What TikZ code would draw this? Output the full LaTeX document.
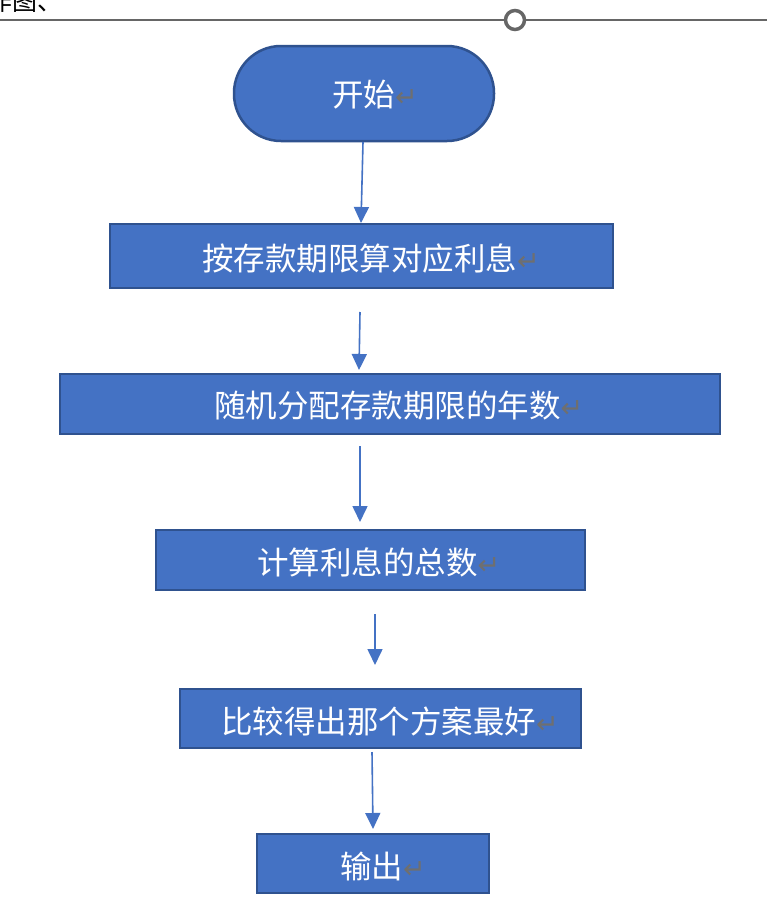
\documentclass[tikz,border=0pt]{standalone}
\usepackage{fontspec}
\usetikzlibrary{arrows.meta}
\newfontfamily\cjk{Noto Sans CJK SC}
\newfontfamily\symf{DejaVu Sans}
\definecolor{boxfill}{HTML}{4472C4}
\definecolor{boxline}{HTML}{2F528F}
\definecolor{rulegray}{HTML}{666666}
\definecolor{retgray}{HTML}{6F6F6F}
\newcommand{\retmark}{{\symf\fontsize{27pt}{27pt}\selectfont\color{retgray}↵}}
\begin{document}
\begin{tikzpicture}[x=1pt,y=-1pt,
  flowbox/.style={draw=boxline,fill=boxfill,line width=2.5pt},
  flowtxt/.style={anchor=west,inner sep=0pt,text=white,font=\cjk\fontsize{31.5pt}{31.5pt}\selectfont},
  flowarrow/.style={draw=boxfill,line width=1.6pt,-{Triangle[width=15pt,length=16pt]}}]
\useasboundingbox (0,0) rectangle (767,902);
\fill[white] (0,0) rectangle (767,902);
% top header fragment
\node[anchor=base west,inner sep=0pt,font=\cjk\fontsize{25pt}{25pt}\selectfont] (hdr) at (-13,10) {作图、};
\draw[rulegray,line width=2pt] (0,20) -- (767,20);
\node[circle,draw=rulegray,fill=white,line width=3.5pt,minimum size=19pt,inner sep=0pt] (knob) at (515,20) {};
% boxes
\draw[flowbox,rounded corners=47pt] (234,46) rectangle (494,141);
\node[flowtxt] (t0) at (332,95) {开始\retmark};
\draw[flowbox] (110,224) rectangle (613,288);
\node[flowtxt] (t1) at (202,258) {按存款期限算对应利息\retmark};
\draw[flowbox] (60,374) rectangle (720,434);
\node[flowtxt] (t2) at (214,406) {随机分配存款期限的年数\retmark};
\draw[flowbox] (156,530) rectangle (585,590);
\node[flowtxt] (t3) at (257,562) {计算利息的总数\retmark};
\draw[flowbox] (180,689) rectangle (581,748);
\node[flowtxt] (t4) at (221,721) {比较得出那个方案最好\retmark};
\draw[flowbox] (257,834) rectangle (489,893);
\node[flowtxt] (t5) at (340,866) {输出\retmark};
% arrows
\coordinate (a1s) at (363,142); \coordinate (a1e) at (361,223);
\coordinate (a2s) at (360,312); \coordinate (a2e) at (359,370);
\coordinate (a3s) at (360,446); \coordinate (a3e) at (360,522);
\coordinate (a4s) at (375,614); \coordinate (a4e) at (375,665);
\coordinate (a5s) at (372,752); \coordinate (a5e) at (373,829);
\draw[flowarrow] (a1s) -- (a1e);
\draw[flowarrow] (a2s) -- (a2e);
\draw[flowarrow] (a3s) -- (a3e);
\draw[flowarrow] (a4s) -- (a4e);
\draw[flowarrow] (a5s) -- (a5e);
\end{tikzpicture}
\end{document}
